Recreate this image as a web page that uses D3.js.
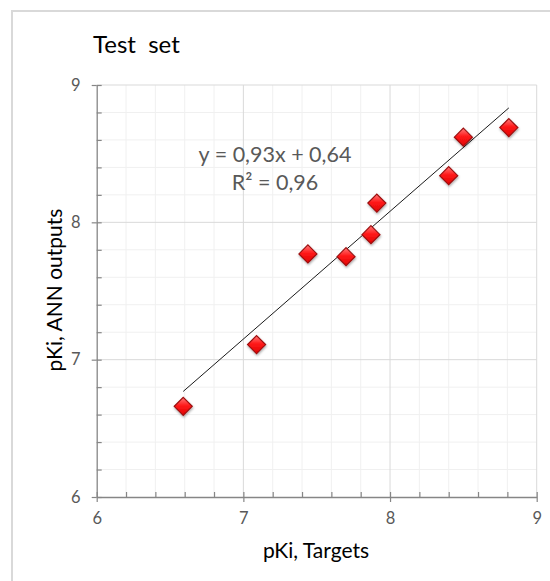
<!DOCTYPE html>
<html><head><meta charset="utf-8">
<script src="https://cdn.jsdelivr.net/npm/d3@7"></script>
<style>
html,body{margin:0;padding:0;background:#fff;}
svg{display:block;}
text{font-family:Lato,"Open Sans",sans-serif;}
</style></head>
<body><svg id="c" width="550" height="581"></svg>
<script>
const targets = [6.59, 7.09, 7.44, 7.70, 7.87, 7.91, 8.40, 8.50, 8.81];
const outputs = [6.66, 7.11, 7.77, 7.75, 7.91, 8.14, 8.34, 8.62, 8.69];
const xTicks = [6, 7, 8, 9];
const yTicks = [6, 7, 8, 9];
const slope = 0.93, intercept = 0.64;
const equationLabels = ["y = 0,93x + 0,64", "R² = 0,96"];
const titleText = "Test  set";
const xTitle = "pKi, Targets";
const yTitle = "pKi, ANN outputs";

const svg = d3.select("#c");
const L = 96.7, R = 536.7, T = 85, B = 497;
const x = d3.scaleLinear().domain([6, 9]).range([L, R]);
const y = d3.scaleLinear().domain([6, 9]).range([B, T]);

// outer chart border
svg.append("rect").attr("x", 12).attr("y", 11).attr("width", 600).attr("height", 640)
  .attr("fill", "#fff").attr("stroke", "#d9d9d9").attr("stroke-width", 2);

const defs = svg.append("defs");
const g1 = defs.append("linearGradient").attr("id", "mg").attr("x1", 0).attr("y1", 0).attr("x2", 0).attr("y2", 1);
g1.append("stop").attr("offset", "0%").attr("stop-color", "#ff7a7a");
g1.append("stop").attr("offset", "45%").attr("stop-color", "#ff1a1a");
g1.append("stop").attr("offset", "100%").attr("stop-color", "#e00000");
const f = defs.append("filter").attr("id", "sh").attr("x", "-50%").attr("y", "-50%").attr("width", "200%").attr("height", "200%");
f.append("feDropShadow").attr("dx", 0.5).attr("dy", 1.5).attr("stdDeviation", 1.2).attr("flood-color", "#000").attr("flood-opacity", 0.35);

// minor grid
const minor = d3.range(6, 9.0001, 0.2).map(v => +v.toFixed(1));
svg.append("g").selectAll("line.mx").data(minor.filter(v => !Number.isInteger(v))).join("line")
  .attr("x1", d => x(d)).attr("x2", d => x(d)).attr("y1", T).attr("y2", B)
  .attr("stroke", "#f0f0f0").attr("stroke-width", 1);
svg.append("g").selectAll("line.my").data(minor.filter(v => !Number.isInteger(v))).join("line")
  .attr("y1", d => y(d)).attr("y2", d => y(d)).attr("x1", L).attr("x2", R)
  .attr("stroke", "#f0f0f0").attr("stroke-width", 1);
// major grid
svg.append("g").selectAll("line").data(xTicks.slice(1)).join("line")
  .attr("x1", d => x(d)).attr("x2", d => x(d)).attr("y1", T).attr("y2", B)
  .attr("stroke", "#d9d9d9").attr("stroke-width", 1);
svg.append("g").selectAll("line").data(yTicks.slice(1)).join("line")
  .attr("y1", d => y(d)).attr("y2", d => y(d)).attr("x1", L).attr("x2", R)
  .attr("stroke", "#d9d9d9").attr("stroke-width", 1);

// axes
const axisColor = "#868686";
const xMinorAxis = d3.axisTop(x).tickValues(minor).tickSize(5).tickSizeOuter(0).tickFormat("");
const gxm = svg.append("g").attr("transform", `translate(0,${B})`).call(xMinorAxis);
const xAxis = d3.axisBottom(x).tickValues(xTicks).tickSize(5).tickPadding(10).tickFormat(d3.format("d"));
const gx = svg.append("g").attr("transform", `translate(0,${B})`).call(xAxis);
const yMinorAxis = d3.axisRight(y).tickValues(minor).tickSize(5).tickSizeOuter(0).tickFormat("");
const gym = svg.append("g").attr("transform", `translate(${L},0)`).call(yMinorAxis);
const yAxis = d3.axisLeft(y).tickValues(yTicks).tickSize(5).tickPadding(11).tickFormat(d3.format("d"));
const gy = svg.append("g").attr("transform", `translate(${L},0)`).call(yAxis);
[gxm, gx, gym, gy].forEach(g => {
  g.select(".domain").attr("stroke", axisColor).attr("stroke-width", 1.3);
  g.selectAll(".tick line").attr("stroke", axisColor).attr("stroke-width", 1.2);
  g.selectAll(".tick text").attr("fill", "#595959").attr("font-size", 16.5)
    .style("font-family", "Lato, sans-serif");
});
gx.select(".domain").remove();
gy.select(".domain").remove();

// trendline
const xs = d3.extent(targets);
svg.append("line")
  .attr("x1", x(xs[0])).attr("y1", y(slope * xs[0] + intercept))
  .attr("x2", x(xs[1])).attr("y2", y(slope * xs[1] + intercept))
  .attr("stroke", "#1a1a1a").attr("stroke-width", 1);

// markers
const s = 9;
svg.append("g").selectAll("path").data(targets.map((t, i) => [t, outputs[i]])).join("path")
  .attr("d", `M0,${-s}L${s},0L0,${s}L${-s},0Z`)
  .attr("transform", d => `translate(${x(d[0])},${y(d[1])})`)
  .attr("fill", "url(#mg)").attr("stroke", "#9c1010").attr("stroke-width", 1.2)
  .attr("filter", "url(#sh)");

// equation
svg.append("g").selectAll("text").data(equationLabels).join("text")
  .attr("x", 275).attr("y", (d, i) => 162 + i * 28)
  .attr("text-anchor", "middle").attr("fill", "#595959").attr("font-size", 21.5)
  .text(d => d);

// titles
svg.append("text").attr("x", 93).attr("y", 53).attr("font-size", 24).attr("fill", "#000")
  .style("white-space", "pre").text(titleText);
svg.append("text").attr("x", 316).attr("y", 558).attr("text-anchor", "middle")
  .attr("font-size", 21).attr("fill", "#000").text(xTitle);
svg.append("text").attr("transform", "translate(62,290) rotate(-90)").attr("text-anchor", "middle")
  .attr("font-size", 21).attr("fill", "#000").text(yTitle);
</script></body></html>
